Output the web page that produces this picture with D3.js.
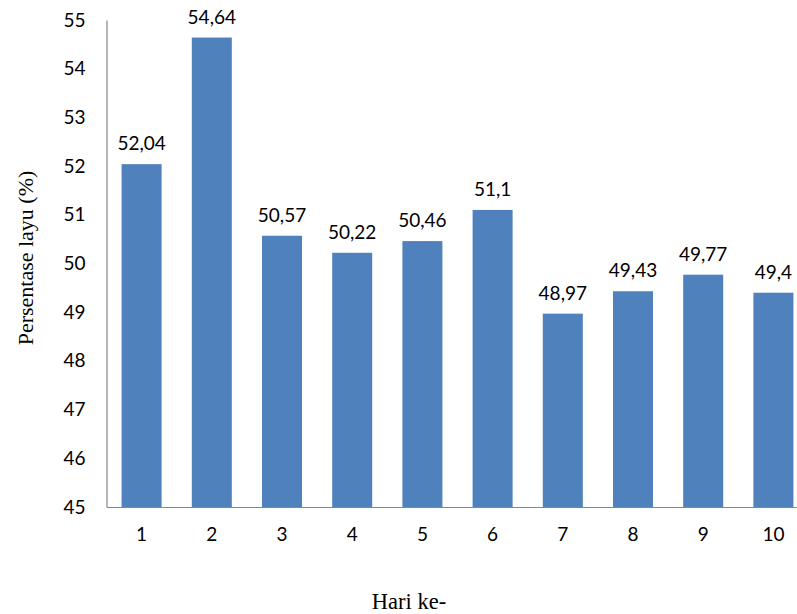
<!DOCTYPE html>
<html>
<head>
<meta charset="utf-8">
<script src="https://cdn.jsdelivr.net/npm/d3@7"></script>
<style>
  html, body { margin: 0; padding: 0; background: #fff; }
  svg { display: block; }
</style>
</head>
<body>
<script>
// Wilting percentage per day
const days = ["1", "2", "3", "4", "5", "6", "7", "8", "9", "10"];
const values = [52.04, 54.64, 50.57, 50.22, 50.46, 51.1, 48.97, 49.43, 49.77, 49.4];
const valueLabels = ["52,04", "54,64", "50,57", "50,22", "50,46", "51,1", "48,97", "49,43", "49,77", "49,4"];
const yTicks = [45, 46, 47, 48, 49, 50, 51, 52, 53, 54, 55];

const W = 797, H = 614;
const plotLeft = 106.5, plotRight = 808.5, plotTop = 20, plotBottom = 507;

const svg = d3.select("body").append("svg")
  .attr("width", W).attr("height", H);

const x = d3.scaleBand().domain(days).range([plotLeft, plotRight]).paddingInner(0.43).paddingOuter(0.215);
const y = d3.scaleLinear().domain([45, 55]).range([plotBottom, plotTop]);

const sans = "Lato, 'Open Sans', sans-serif";
const serif = "'Liberation Serif', 'Times New Roman', serif";

// bars
svg.append("g").selectAll("rect")
  .data(values)
  .join("rect")
  .attr("x", (d, i) => x(days[i]))
  .attr("width", x.bandwidth())
  .attr("y", d => y(d))
  .attr("height", d => y(45) - y(d))
  .attr("fill", "#4f81bd");

// value labels
svg.append("g").selectAll("text")
  .data(values)
  .join("text")
  .attr("x", (d, i) => x(days[i]) + x.bandwidth() / 2)
  .attr("y", d => y(d) - 14)
  .attr("text-anchor", "middle")
  .attr("font-family", sans)
  .attr("font-size", 19)
  .attr("fill", "#000")
  .text((d, i) => valueLabels[i]);

// y axis
const yAxis = svg.append("g")
  .attr("transform", `translate(${plotLeft},0)`)
  .call(d3.axisLeft(y).tickValues(yTicks).tickSize(0).tickPadding(21).tickFormat(d3.format("d")));
yAxis.select(".domain").attr("stroke", "#868686").attr("stroke-width", 1.2);
yAxis.selectAll("text").attr("font-family", sans).attr("font-size", 19).attr("fill", "#000");

// x axis
const xAxis = svg.append("g")
  .attr("transform", `translate(0,${plotBottom})`)
  .call(d3.axisBottom(x).tickSize(0).tickPadding(21));
xAxis.select(".domain").attr("stroke", "#868686").attr("stroke-width", 1.2);
xAxis.selectAll("text").attr("font-family", sans).attr("font-size", 19).attr("fill", "#000");

// axis titles
svg.append("text")
  .attr("x", 409).attr("y", 609)
  .attr("text-anchor", "middle")
  .attr("font-family", serif)
  .attr("font-size", 22.5)
  .text("Hari ke-");

svg.append("text")
  .attr("transform", "translate(33,258) rotate(-90)")
  .attr("text-anchor", "middle")
  .attr("font-family", serif)
  .attr("font-size", 22)
  .text("Persentase layu (%)");
</script>
</body>
</html>
